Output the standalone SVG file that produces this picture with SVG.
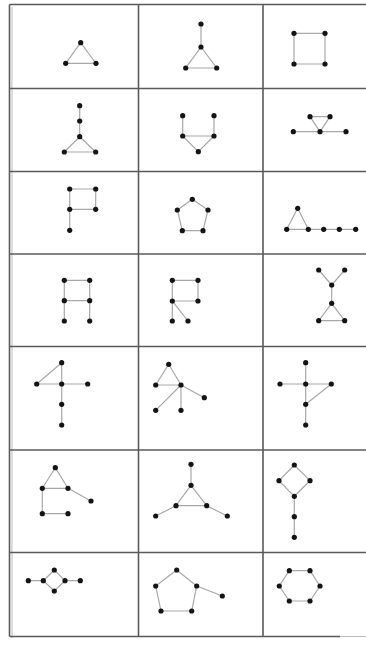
<svg xmlns="http://www.w3.org/2000/svg" width="366" height="663" viewBox="0 0 366 663">
<style>
.grid{stroke:#5a5a5a;stroke-width:1.6;fill:none}
.grid2{stroke:#bdbdbd;stroke-width:1;fill:none}
.e{stroke:#a8a8a8;stroke-width:1.2;fill:none}
.v{fill:#141414}
</style>
<defs><circle id="dot" r="2.6" class="v"/></defs>
<rect width="366" height="663" fill="#fff"/>
<g id="table">
<line class="grid2" x1="12" y1="7" x2="12" y2="638"/>
<line class="grid" x1="9.5" y1="4.5" x2="9.5" y2="636.5"/>
<line class="grid" x1="9.5" y1="4.5" x2="366" y2="4.5"/>
<line class="grid" x1="9.5" y1="88.5" x2="366" y2="88.5"/>
<line class="grid" x1="9.5" y1="171.5" x2="366" y2="171.5"/>
<line class="grid" x1="9.5" y1="254" x2="366" y2="254"/>
<line class="grid" x1="9.5" y1="346.5" x2="366" y2="346.5"/>
<line class="grid" x1="9.5" y1="450" x2="366" y2="450"/>
<line class="grid" x1="9.5" y1="552.5" x2="366" y2="552.5"/>
<line class="grid" x1="9.5" y1="636.5" x2="340" y2="636.5"/>
<line class="grid2" x1="340" y1="636.5" x2="366" y2="636.5"/>
<line class="grid" x1="138.5" y1="4.5" x2="138.5" y2="636.5"/>
<line class="grid" x1="263" y1="4.5" x2="263" y2="636.5"/>
</g>
<g id="connectors">
<path class="e" d="M80.7 42.7L65.7 63.3L96 63.3Z"/>
<path class="e" d="M201 24V47L185.7 68H216.7L201 47"/>
<path class="e" d="M294 33.3H325V64H294Z"/>
<path class="e" d="M79.7 105.7V136.7L64.3 152H95.7L79.7 136.7"/>
<path class="e" d="M182.7 115.7V136H214V115.7M182.7 136L198.3 151.7L214 136"/>
<path class="e" d="M310 116.7H330L320 131.7ZM293.3 131.7H346"/>
<path class="e" d="M69.7 230.3V189H95.7V209.3H69.7"/>
<path class="e" d="M192.3 199.3L177.3 210L182.3 230.7H203L208 210Z"/>
<path class="e" d="M297.7 208.3L286.7 229.3M297.7 208.3L308.3 229.3M286.7 229.3H355.7"/>
<path class="e" d="M64.3 280.3V321M89.7 280.3V321M64.3 280.3H89.7M64.3 300.7H89.7"/>
<path class="e" d="M172.3 280.3V321M172.3 280.3H198V301H172.3L188 321"/>
<path class="e" d="M318.7 270L331.7 285L344.7 270M331.7 285V303.3L318.7 320.7H344.7L331.7 303.3"/>
<path class="e" d="M36.7 384H87.7M61.7 362.7V425M36.7 384L61.7 362.7"/>
<path class="e" d="M155.7 385L168.7 364.3L181 385H155.7M181 385L204.3 397.7M181 385V410.3M181 385L155.7 410.3"/>
<path class="e" d="M280 384H331.3M305.7 362.7V425M331.3 384L305.7 404.3"/>
<path class="e" d="M55.3 467.7L42.3 488.3H68ZM68 488.3L91 501M42.3 488.3V513.7H68"/>
<path class="e" d="M191 464.3V485.3L176 505.7H206.7L191 485.3M176 505.7L155.7 516M206.7 505.7L227.3 516"/>
<path class="e" d="M294.3 465L279 480.7L294.3 496.3L310 480.7ZM294.3 496.3V537.3"/>
<path class="e" d="M28.3 580.7H43.3M65 580.7H80.3M43.3 580.7L54.3 570L65 580.7L54.3 591Z"/>
<path class="e" d="M176.7 570L155.7 586L161 611H191.7L196.7 586ZM196.7 586L222.3 596"/>
<path class="e" d="M289.3 570.7H310L320 586L310 601H289.3L279.3 586Z"/>
</g>
<g id="r1c1"><use href="#dot" x="80.7" y="42.7"/><use href="#dot" x="65.7" y="63.3"/><use href="#dot" x="96" y="63.3"/></g>
<g id="r1c2"><use href="#dot" x="201" y="24"/><use href="#dot" x="201" y="47"/><use href="#dot" x="185.7" y="68"/><use href="#dot" x="216.7" y="68"/></g>
<g id="r1c3"><use href="#dot" x="294" y="33.3"/><use href="#dot" x="325" y="33.3"/><use href="#dot" x="294" y="64"/><use href="#dot" x="325" y="64"/></g>
<g id="r2c1"><use href="#dot" x="79.7" y="105.7"/><use href="#dot" x="79.7" y="121"/><use href="#dot" x="79.7" y="136.7"/><use href="#dot" x="64.3" y="152"/><use href="#dot" x="95.7" y="152"/></g>
<g id="r2c2"><use href="#dot" x="182.7" y="115.7"/><use href="#dot" x="214" y="115.7"/><use href="#dot" x="182.7" y="136"/><use href="#dot" x="214" y="136"/><use href="#dot" x="198.3" y="151.7"/></g>
<g id="r2c3"><use href="#dot" x="310" y="116.7"/><use href="#dot" x="330" y="116.7"/><use href="#dot" x="293.3" y="131.7"/><use href="#dot" x="320" y="131.7"/><use href="#dot" x="346" y="131.7"/></g>
<g id="r3c1"><use href="#dot" x="69.7" y="189"/><use href="#dot" x="95.7" y="189"/><use href="#dot" x="69.7" y="209.3"/><use href="#dot" x="95.7" y="209.3"/><use href="#dot" x="69.7" y="230.3"/></g>
<g id="r3c2"><use href="#dot" x="192.3" y="199.3"/><use href="#dot" x="177.3" y="210"/><use href="#dot" x="208" y="210"/><use href="#dot" x="182.3" y="230.7"/><use href="#dot" x="203" y="230.7"/></g>
<g id="r3c3"><use href="#dot" x="297.7" y="208.3"/><use href="#dot" x="286.7" y="229.3"/><use href="#dot" x="308.3" y="229.3"/><use href="#dot" x="323.7" y="229.3"/><use href="#dot" x="339.3" y="229.3"/><use href="#dot" x="355.7" y="229.3"/></g>
<g id="r4c1"><use href="#dot" x="64.3" y="280.3"/><use href="#dot" x="89.7" y="280.3"/><use href="#dot" x="64.3" y="300.7"/><use href="#dot" x="89.7" y="300.7"/><use href="#dot" x="64.3" y="321"/><use href="#dot" x="89.7" y="321"/></g>
<g id="r4c2"><use href="#dot" x="172.3" y="280.3"/><use href="#dot" x="198" y="280.3"/><use href="#dot" x="172.3" y="301"/><use href="#dot" x="198" y="301"/><use href="#dot" x="172.3" y="321"/><use href="#dot" x="188" y="321"/></g>
<g id="r4c3"><use href="#dot" x="318.7" y="270"/><use href="#dot" x="344.7" y="270"/><use href="#dot" x="331.7" y="285"/><use href="#dot" x="331.7" y="303.3"/><use href="#dot" x="318.7" y="320.7"/><use href="#dot" x="344.7" y="320.7"/></g>
<g id="r5c1"><use href="#dot" x="61.7" y="362.7"/><use href="#dot" x="36.7" y="384"/><use href="#dot" x="61.7" y="384"/><use href="#dot" x="87.7" y="384"/><use href="#dot" x="61.7" y="404.3"/><use href="#dot" x="61.7" y="425"/></g>
<g id="r5c2"><use href="#dot" x="168.7" y="364.3"/><use href="#dot" x="155.7" y="385"/><use href="#dot" x="181" y="385"/><use href="#dot" x="204.3" y="397.7"/><use href="#dot" x="155.7" y="410.3"/><use href="#dot" x="181" y="410.3"/></g>
<g id="r5c3"><use href="#dot" x="305.7" y="362.7"/><use href="#dot" x="280" y="384"/><use href="#dot" x="305.7" y="384"/><use href="#dot" x="331.3" y="384"/><use href="#dot" x="305.7" y="404.3"/><use href="#dot" x="305.7" y="425"/></g>
<g id="r6c1"><use href="#dot" x="55.3" y="467.7"/><use href="#dot" x="42.3" y="488.3"/><use href="#dot" x="68" y="488.3"/><use href="#dot" x="91" y="501"/><use href="#dot" x="42.3" y="513.7"/><use href="#dot" x="68" y="513.7"/></g>
<g id="r6c2"><use href="#dot" x="191" y="464.3"/><use href="#dot" x="191" y="485.3"/><use href="#dot" x="176" y="505.7"/><use href="#dot" x="206.7" y="505.7"/><use href="#dot" x="155.7" y="516"/><use href="#dot" x="227.3" y="516"/></g>
<g id="r6c3"><use href="#dot" x="294.3" y="465"/><use href="#dot" x="279" y="480.7"/><use href="#dot" x="310" y="480.7"/><use href="#dot" x="294.3" y="496.3"/><use href="#dot" x="294.3" y="516.7"/><use href="#dot" x="294.3" y="537.3"/></g>
<g id="r7c1"><use href="#dot" x="28.3" y="580.7"/><use href="#dot" x="43.3" y="580.7"/><use href="#dot" x="54.3" y="570"/><use href="#dot" x="65" y="580.7"/><use href="#dot" x="54.3" y="591"/><use href="#dot" x="80.3" y="580.7"/></g>
<g id="r7c2"><use href="#dot" x="176.7" y="570"/><use href="#dot" x="155.7" y="586"/><use href="#dot" x="196.7" y="586"/><use href="#dot" x="222.3" y="596"/><use href="#dot" x="161" y="611"/><use href="#dot" x="191.7" y="611"/></g>
<g id="r7c3"><use href="#dot" x="289.3" y="570.7"/><use href="#dot" x="310" y="570.7"/><use href="#dot" x="279.3" y="586"/><use href="#dot" x="320" y="586"/><use href="#dot" x="289.3" y="601"/><use href="#dot" x="310" y="601"/></g>
</svg>
